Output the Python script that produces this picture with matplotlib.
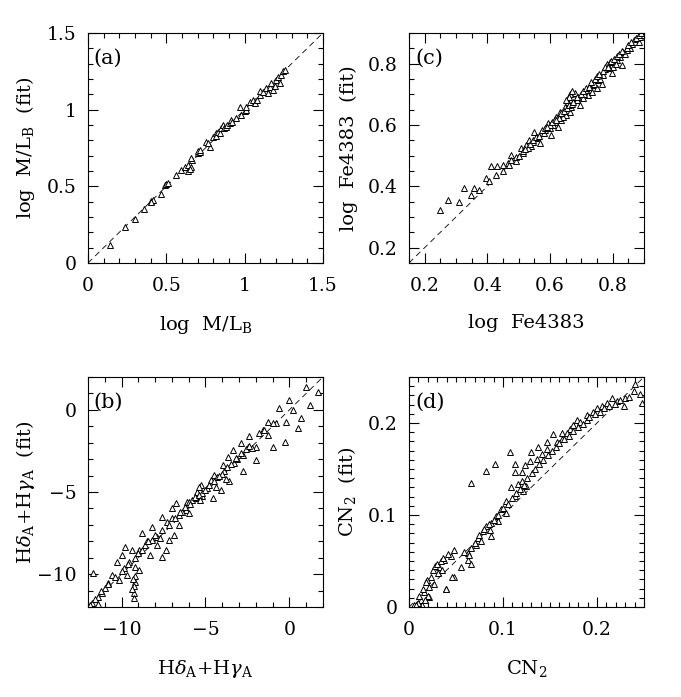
import numpy as np
import matplotlib
matplotlib.use("Agg")
import matplotlib.pyplot as plt
from matplotlib.ticker import MultipleLocator

plt.rcParams['font.family'] = ['DejaVu Serif']
plt.rcParams['mathtext.fontset'] = 'dejavuserif'

# (a) log M/L_B
ml_x = [0.138, 0.236, 0.298, 0.357, 0.404, 0.415, 0.400, 0.468, 0.489, 0.500, 0.510, 0.564, 0.596,
        0.617, 0.638, 0.660, 0.666, 0.660, 0.640, 0.650, 0.700, 0.705, 0.713, 0.713, 0.755, 0.777,
        0.766, 0.798, 0.819, 0.820, 0.830, 0.840, 0.851, 0.862, 0.870, 0.883, 0.890, 0.904, 0.915,
        0.920, 0.947, 0.968, 0.979, 1.000, 1.006, 1.011, 1.032, 1.053, 1.064, 1.080, 1.096, 1.100,
        1.117, 1.138, 1.149, 1.160, 1.170, 1.180, 1.191, 1.202, 1.210, 1.223, 1.234, 1.245, 1.255]
ml_y = [0.120, 0.235, 0.290, 0.355, 0.403, 0.410, 0.395, 0.453, 0.508, 0.515, 0.520, 0.573, 0.606,
        0.628, 0.639, 0.628, 0.672, 0.682, 0.600, 0.615, 0.720, 0.730, 0.726, 0.737, 0.791, 0.759,
        0.780, 0.824, 0.846, 0.830, 0.857, 0.850, 0.879, 0.900, 0.880, 0.889, 0.900, 0.911, 0.933,
        0.920, 0.944, 1.020, 0.966, 0.990, 0.998, 1.020, 1.053, 1.064, 1.042, 1.060, 1.097, 1.120,
        1.118, 1.140, 1.107, 1.150, 1.173, 1.130, 1.151, 1.195, 1.210, 1.173, 1.227, 1.249, 1.260]

# (b) Hdelta_A + Hgamma_A
hd_x = [1.02, 1.68, 1.22, 0.00, 0.20, -0.60, 0.72, 0.52, -0.20, -0.80, -1.28, -1.58, -1.28, -1.78,
        -0.28, -0.98, -2.38, -2.88, -1.98, -2.48, -3.38, -2.78, -1.98, -3.68, -3.28, -2.78, -3.98,
        -3.88, -3.58, -4.48, -4.68, -4.08, -4.88, -5.28, -5.48, -4.58, -5.18, -5.78, -6.08,
        -5.38, -5.18, -5.58, -5.98, -6.98, -6.18, -6.58, -7.28, -6.58, -8.18, -7.58, -6.88, -8.78,
        -7.88, -8.18, -7.18, -7.88, -8.58, -7.38, -8.28, -7.58, -9.78, -9.38, -8.98, -9.58, -9.98,
        -10.28, -9.18, -9.88, -8.98, -10.58, -9.68, -10.18, -9.18, -9.18, -10.78, -9.28, -10.98,
        -11.18, -9.28, -9.28, -11.38, -11.78, -11.38, -11.68, -6.78, -7.58, -6.40, -5.00, -4.30,
        -3.10, -2.20, -6.00, -7.00, -8.50, -9.00, -10.00, -4.00, -3.50,
        -7.20, -6.80, -6.50, -6.20, -5.90, -5.60, -5.40, -4.80, -4.50, -4.20, -3.70, -3.20, -2.90,
        -2.60, -8.00, -8.40, -8.80, -9.20, -9.60, -10.40, -10.80, -11.20, -11.60, -11.90, -7.70,
        -5.30, -4.40, -3.80, -2.40, -1.00, -1.50, -9.40, -9.30]
hd_y = [1.42, 1.11, 0.30, 0.61, 0.00, 0.10, -0.50, -1.11, -0.71, -0.81, -0.71, -1.22, -1.52, -1.42,
        -1.93, -2.23, -1.62, -2.03, -2.23, -2.23, -2.43, -2.74, -3.04, -2.84, -3.24, -3.75, -3.35,
        -3.75, -4.36, -3.96, -4.26, -4.87, -4.77, -4.56, -4.97, -5.37, -5.27, -5.48, -5.58,
        -4.67, -5.07, -5.37, -5.58, -5.98, -6.09, -6.39, -6.80, -7.00, -7.14, -7.30, -7.61, -7.51,
        -7.71, -7.91, -7.91, -8.22, -8.22, -8.52, -8.83, -8.93, -8.36, -8.52, -8.52, -9.23, -8.83,
        -9.23, -9.54, -9.64, -9.74, -10.04, -10.04, -10.35, -10.14, -10.45, -10.55, -10.75, -10.86,
        -11.16, -11.16, -11.47, -11.36, -11.76, -11.81, -9.94, -5.68, -6.50, -6.20, -4.90, -4.10,
        -3.00, -2.30, -6.30, -6.60, -8.00, -8.70, -9.80, -3.90, -3.30,
        -7.00, -6.60, -6.20, -5.90, -5.70, -5.30, -5.20, -4.60, -4.30, -4.00, -3.50, -2.90, -2.60,
        -2.40, -7.60, -8.00, -8.50, -9.00, -9.40, -10.20, -10.60, -11.00, -11.50, -11.90, -7.80,
        -5.50, -4.70, -4.20, -2.20, -0.80, -1.20, -10.90, -10.30]

# (c) log Fe4383
fe_x = [0.250, 0.275, 0.311, 0.325, 0.347, 0.357, 0.374, 0.395, 0.406, 0.411, 0.432, 0.427, 0.449,
        0.449, 0.465, 0.470, 0.476, 0.476, 0.491, 0.492, 0.508, 0.513, 0.524, 0.534, 0.540, 0.550,
        0.556, 0.567, 0.572, 0.583, 0.593, 0.599, 0.604, 0.615, 0.620, 0.625, 0.631, 0.636, 0.647,
        0.652, 0.658, 0.663, 0.668, 0.674, 0.679, 0.685, 0.695, 0.706, 0.717, 0.722, 0.733, 0.738,
        0.749, 0.754, 0.765, 0.770, 0.776, 0.781, 0.792, 0.797, 0.802, 0.813, 0.824, 0.829, 0.834,
        0.845, 0.851, 0.861, 0.867, 0.870, 0.877, 0.883, 0.888, 0.893, 0.560, 0.580, 0.610, 0.640,
        0.690, 0.710, 0.740, 0.760, 0.790, 0.810, 0.840, 0.855, 0.500, 0.530, 0.545, 0.600, 0.630,
        0.515, 0.520, 0.535, 0.545, 0.555, 0.565, 0.575, 0.585, 0.590, 0.605, 0.615, 0.620, 0.635,
        0.645, 0.655, 0.660, 0.670, 0.675, 0.685, 0.700, 0.705, 0.715, 0.725, 0.730, 0.745, 0.750,
        0.755, 0.770, 0.775, 0.785, 0.795, 0.805, 0.815, 0.820, 0.830, 0.845, 0.850, 0.860, 0.875,
        0.885, 0.890, 0.665, 0.670, 0.660, 0.650]
fe_y = [0.324, 0.355, 0.348, 0.395, 0.373, 0.395, 0.389, 0.427, 0.416, 0.465, 0.465, 0.438, 0.449,
        0.470, 0.476, 0.470, 0.503, 0.487, 0.481, 0.497, 0.524, 0.508, 0.535, 0.551, 0.530, 0.578,
        0.557, 0.540, 0.573, 0.584, 0.605, 0.589, 0.568, 0.611, 0.627, 0.595, 0.643, 0.616, 0.660,
        0.633, 0.676, 0.643, 0.660, 0.692, 0.703, 0.681, 0.665, 0.687, 0.714, 0.697, 0.708, 0.730,
        0.719, 0.746, 0.735, 0.762, 0.784, 0.800, 0.805, 0.768, 0.789, 0.811, 0.822, 0.795, 0.838,
        0.843, 0.854, 0.865, 0.876, 0.870, 0.881, 0.870, 0.887, 0.892, 0.560, 0.575, 0.600, 0.625,
        0.690, 0.700, 0.735, 0.750, 0.785, 0.800, 0.830, 0.850, 0.500, 0.525, 0.545, 0.600, 0.622,
        0.515, 0.522, 0.538, 0.550, 0.560, 0.565, 0.585, 0.590, 0.595, 0.610, 0.620, 0.615, 0.640,
        0.645, 0.655, 0.665, 0.670, 0.675, 0.690, 0.700, 0.710, 0.720, 0.725, 0.740, 0.750, 0.760,
        0.765, 0.775, 0.790, 0.790, 0.810, 0.815, 0.825, 0.830, 0.840, 0.850, 0.860, 0.870, 0.885,
        0.895, 0.900, 0.700, 0.710, 0.690, 0.680]

# (d) CN2
cn_x = [0.066, 0.082, 0.091, 0.107, 0.1125, 0.130, 0.1375, 0.1536, 0.1625, 0.171, 0.1786, 0.189,
        0.200, 0.211, 0.216, 0.2286, 0.230, 0.241, 0.239, 0.246, 0.248, 0.039, 0.048,
        0.1125, 0.116, 0.109, 0.121, 0.1125, 0.1036, 0.1036, 0.098, 0.093, 0.0875, 0.082, 0.0786,
        0.0857, 0.073, 0.0714, 0.066, 0.0625, 0.0625, 0.0554, 0.048, 0.0446, 0.0375, 0.032, 0.0304,
        0.0232, 0.0196, 0.0214, 0.016, 0.0214, 0.0125, 0.009, 0.0143, 0.046, 0.039, 0.120, 0.125,
        0.0875, 0.077, 0.0946, 0.120, 0.123, 0.1286, 0.1357, 0.141, 0.1464, 0.1464, 0.157, 0.1625,
        0.168, 0.175, 0.182, 0.189, 0.196, 0.205, 0.2214, 0.005, 0.010, 0.027, 0.035, 0.058, 0.100,
        0.105, 0.110, 0.114, 0.118, 0.122, 0.126, 0.131, 0.134, 0.138, 0.143, 0.148, 0.152, 0.156,
        0.160, 0.165, 0.170, 0.174, 0.180, 0.185, 0.192, 0.198, 0.203, 0.208, 0.213, 0.219, 0.225,
        0.234, 0.070, 0.075, 0.080, 0.085, 0.090, 0.095, 0.025, 0.028, 0.030, 0.034, 0.036, 0.041,
        0.018, 0.015, 0.011, 0.020, 0.017, 0.007, 0.064, 0.066]
cn_y = [0.135, 0.148, 0.155, 0.169, 0.155, 0.169, 0.174, 0.188, 0.189, 0.194, 0.203, 0.209,
        0.216, 0.222, 0.227, 0.218, 0.227, 0.242, 0.2345, 0.231, 0.222, 0.020, 0.033,
        0.1466, 0.134, 0.130, 0.126, 0.121, 0.115, 0.1026, 0.106, 0.099, 0.0916, 0.088, 0.0824,
        0.084, 0.075, 0.0678, 0.064, 0.0587, 0.0513, 0.044, 0.0623, 0.055, 0.0513, 0.044, 0.0367,
        0.033, 0.0293, 0.022, 0.0165, 0.011, 0.0074, 0.0037, 0.002, 0.033, 0.020, 0.137, 0.132,
        0.077, 0.0714, 0.0934, 0.1466, 0.154, 0.159, 0.161, 0.1667, 0.172, 0.1795, 0.1795, 0.183,
        0.189, 0.198, 0.2015, 0.203, 0.2125, 0.218, 0.2235, 0.002, 0.004, 0.025, 0.040, 0.060, 0.108,
        0.112, 0.118, 0.124, 0.128, 0.133, 0.140, 0.146, 0.150, 0.155, 0.160, 0.165, 0.170, 0.174,
        0.178, 0.183, 0.186, 0.191, 0.196, 0.199, 0.206, 0.210, 0.212, 0.216, 0.219, 0.221, 0.225,
        0.228, 0.070, 0.078, 0.085, 0.090, 0.095, 0.100, 0.040, 0.045, 0.047, 0.050, 0.053, 0.058,
        0.027, 0.020, 0.012, 0.012, 0.008, 0.002, 0.056, 0.047]

panels = [
    # x, y, limits, major, minor, tick labels, xlabel, ylabel, tag, axes rect
    (ml_x, ml_y, (0, 1.5), 0.5, 0.1, ['0', '0.5', '1', '1.5'],
     r'log  M/L$_{\rm B}$', r'log  M/L$_{\rm B}$  (fit)', '(a)', [0.1292, 0.6227, 0.345, 0.330]),
    (fe_x, fe_y, (0.15, 0.9), 0.2, 0.05, ['0.2', '0.4', '0.6', '0.8'],
     'log  Fe4383', 'log  Fe4383  (fit)', '(c)', [0.6006, 0.6227, 0.345, 0.330]),
    (hd_x, hd_y, (-12, 2), 5, 1, ['\u221210', '\u22125', '0'],
     r'H$\delta_{\rm A}$+H$\gamma_{\rm A}$', r'H$\delta_{\rm A}$+H$\gamma_{\rm A}$  (fit)', '(b)',
     [0.1292, 0.1291, 0.345, 0.330]),
    (cn_x, cn_y, (0, 0.25), 0.1, 0.01, ['0', '0.1', '0.2'],
     r'CN$_2$', r'CN$_2$  (fit)', '(d)', [0.6006, 0.1291, 0.345, 0.330]),
]

fig = plt.figure(figsize=(6.81, 6.97), dpi=100)

for x, y, lim, major, minor, labels, xlab, ylab, tag, rect in panels:
    ax = fig.add_axes(rect)
    ax.plot([lim[0], lim[1]], [lim[0], lim[1]], color='black', lw=0.6, dashes=(7, 5))
    ax.plot(x, y, linestyle='none', marker='^', markersize=5, markerfacecolor='white',
            markeredgecolor='black', markeredgewidth=0.7)
    ax.set_xlim(*lim)
    ax.set_ylim(*lim)

    ticks = [float(t.replace('\u2212', '-')) for t in labels]
    ax.set_xticks(ticks)
    ax.set_yticks(ticks)
    ax.set_xticklabels(labels)
    ax.set_yticklabels(labels)
    ax.xaxis.set_minor_locator(MultipleLocator(minor))
    ax.yaxis.set_minor_locator(MultipleLocator(minor))

    ax.tick_params(which='both', direction='in', top=True, right=True, labelsize=13.5)
    ax.tick_params(which='major', length=7, width=0.8)
    ax.tick_params(which='minor', length=3.5, width=0.8)
    ax.tick_params(axis='x', pad=10)
    ax.tick_params(axis='y', pad=8)
    for s in ax.spines.values():
        s.set_linewidth(0.8)

    ax.set_xlabel(xlab, fontsize=14)
    ax.set_ylabel(ylab, fontsize=14)
    ax.xaxis.set_label_coords(0.5, -0.22)
    ax.yaxis.set_label_coords(-0.215, 0.5)
    ax.text(0.025, 0.93, tag, transform=ax.transAxes, fontsize=15, va='top', ha='left')

fig.savefig('out.png', dpi=100)
